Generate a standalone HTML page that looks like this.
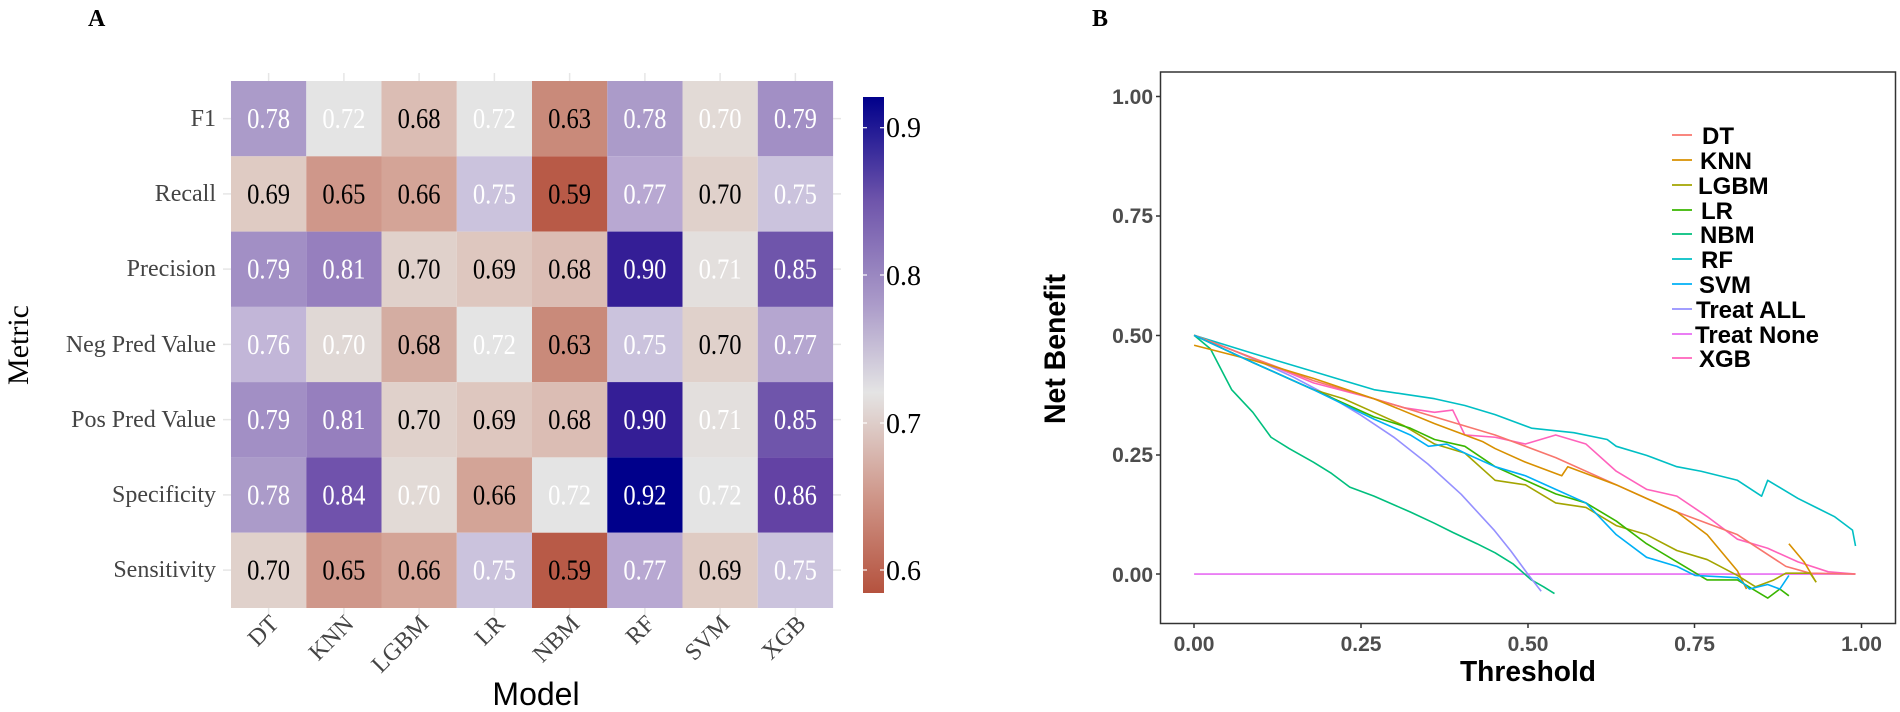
<!DOCTYPE html>
<html><head><meta charset="utf-8"><style>html,body{margin:0;padding:0;background:#fff;}svg{display:block;}</style></head>
<body>
<svg width="1900" height="712" viewBox="0 0 1900 712" xmlns="http://www.w3.org/2000/svg">
<defs>
<linearGradient id="cb" x1="0" y1="1" x2="0" y2="0">
<stop offset="0" stop-color="#b5523e"/>
<stop offset="0.196" stop-color="#cf978a"/>
<stop offset="0.404" stop-color="#e4e4e4"/>
<stop offset="0.582" stop-color="#ab9bc9"/>
<stop offset="0.79" stop-color="#6f55ab"/>
<stop offset="1" stop-color="#00008b"/>
</linearGradient>
</defs>
<rect width="1900" height="712" fill="#fff"/>
<text x="88" y="26" font-family="Liberation Serif" font-weight="bold" font-size="24">A</text>
<text x="1092" y="26" font-family="Liberation Serif" font-weight="bold" font-size="24">B</text>

<g stroke="#e6e6e6" stroke-width="1.5">
<line x1="268.6" y1="73" x2="268.6" y2="81"/><line x1="343.9" y1="73" x2="343.9" y2="81"/><line x1="419.1" y1="73" x2="419.1" y2="81"/><line x1="494.4" y1="73" x2="494.4" y2="81"/><line x1="569.6" y1="73" x2="569.6" y2="81"/><line x1="644.9" y1="73" x2="644.9" y2="81"/><line x1="720.1" y1="73" x2="720.1" y2="81"/><line x1="795.4" y1="73" x2="795.4" y2="81"/>
<line x1="268.6" y1="608" x2="268.6" y2="616"/><line x1="343.9" y1="608" x2="343.9" y2="616"/><line x1="419.1" y1="608" x2="419.1" y2="616"/><line x1="494.4" y1="608" x2="494.4" y2="616"/><line x1="569.6" y1="608" x2="569.6" y2="616"/><line x1="644.9" y1="608" x2="644.9" y2="616"/><line x1="720.1" y1="608" x2="720.1" y2="616"/><line x1="795.4" y1="608" x2="795.4" y2="616"/>
<line x1="223" y1="118.6" x2="231" y2="118.6"/><line x1="223" y1="193.9" x2="231" y2="193.9"/><line x1="223" y1="269.1" x2="231" y2="269.1"/><line x1="223" y1="344.4" x2="231" y2="344.4"/><line x1="223" y1="419.6" x2="231" y2="419.6"/><line x1="223" y1="494.9" x2="231" y2="494.9"/><line x1="223" y1="570.1" x2="231" y2="570.1"/>
<line x1="833" y1="118.6" x2="841" y2="118.6"/><line x1="833" y1="193.9" x2="841" y2="193.9"/><line x1="833" y1="269.1" x2="841" y2="269.1"/><line x1="833" y1="344.4" x2="841" y2="344.4"/><line x1="833" y1="419.6" x2="841" y2="419.6"/><line x1="833" y1="494.9" x2="841" y2="494.9"/><line x1="833" y1="570.1" x2="841" y2="570.1"/>
</g>

<g id="cells">
<rect x="231" y="81" width="75.3" height="75.3" fill="#ab9bc9"/><rect x="306.3" y="81" width="75.3" height="75.3" fill="#e4e4e4"/><rect x="381.5" y="81" width="75.3" height="75.3" fill="#dbbdb4"/><rect x="456.8" y="81" width="75.3" height="75.3" fill="#e4e4e4"/><rect x="532" y="81" width="75.3" height="75.3" fill="#c98a7a"/><rect x="607.3" y="81" width="75.3" height="75.3" fill="#ab9bc9"/><rect x="682.5" y="81" width="75.3" height="75.3" fill="#e2dad6"/><rect x="757.8" y="81" width="75.3" height="75.3" fill="#a28fc5"/>
<rect x="231" y="156.3" width="75.3" height="75.3" fill="#dfcbc3"/><rect x="306.3" y="156.3" width="75.3" height="75.3" fill="#cf978a"/><rect x="381.5" y="156.3" width="75.3" height="75.3" fill="#d4a497"/><rect x="456.8" y="156.3" width="75.3" height="75.3" fill="#cbc3dd"/><rect x="532" y="156.3" width="75.3" height="75.3" fill="#b85a47"/><rect x="607.3" y="156.3" width="75.3" height="75.3" fill="#b8a8d2"/><rect x="682.5" y="156.3" width="75.3" height="75.3" fill="#e0d1cb"/><rect x="757.8" y="156.3" width="75.3" height="75.3" fill="#cbc3dd"/>
<rect x="231" y="231.6" width="75.3" height="75.3" fill="#a28fc5"/><rect x="306.3" y="231.6" width="75.3" height="75.3" fill="#967fbe"/><rect x="381.5" y="231.6" width="75.3" height="75.3" fill="#e0d1cb"/><rect x="456.8" y="231.6" width="75.3" height="75.3" fill="#dec7bf"/><rect x="532" y="231.6" width="75.3" height="75.3" fill="#dbbdb4"/><rect x="607.3" y="231.6" width="75.3" height="75.3" fill="#341e96"/><rect x="682.5" y="231.6" width="75.3" height="75.3" fill="#e3dfdd"/><rect x="757.8" y="231.6" width="75.3" height="75.3" fill="#6f55ab"/>
<rect x="231" y="306.9" width="75.3" height="75.3" fill="#c2b6d8"/><rect x="306.3" y="306.9" width="75.3" height="75.3" fill="#e0d8d5"/><rect x="381.5" y="306.9" width="75.3" height="75.3" fill="#d4ada2"/><rect x="456.8" y="306.9" width="75.3" height="75.3" fill="#e4e4e4"/><rect x="532" y="306.9" width="75.3" height="75.3" fill="#c98a7a"/><rect x="607.3" y="306.9" width="75.3" height="75.3" fill="#cbc3dd"/><rect x="682.5" y="306.9" width="75.3" height="75.3" fill="#e0d1cb"/><rect x="757.8" y="306.9" width="75.3" height="75.3" fill="#b5a6d0"/>
<rect x="231" y="382.1" width="75.3" height="75.3" fill="#a28fc5"/><rect x="306.3" y="382.1" width="75.3" height="75.3" fill="#967fbe"/><rect x="381.5" y="382.1" width="75.3" height="75.3" fill="#e0d1cb"/><rect x="456.8" y="382.1" width="75.3" height="75.3" fill="#dec7bf"/><rect x="532" y="382.1" width="75.3" height="75.3" fill="#dbbdb4"/><rect x="607.3" y="382.1" width="75.3" height="75.3" fill="#341e96"/><rect x="682.5" y="382.1" width="75.3" height="75.3" fill="#e3dfdd"/><rect x="757.8" y="382.1" width="75.3" height="75.3" fill="#6f55ab"/>
<rect x="231" y="457.4" width="75.3" height="75.3" fill="#ab9bc9"/><rect x="306.3" y="457.4" width="75.3" height="75.3" fill="#7052ac"/><rect x="381.5" y="457.4" width="75.3" height="75.3" fill="#e2dad6"/><rect x="456.8" y="457.4" width="75.3" height="75.3" fill="#d3a497"/><rect x="532" y="457.4" width="75.3" height="75.3" fill="#e4e4e4"/><rect x="607.3" y="457.4" width="75.3" height="75.3" fill="#00008b"/><rect x="682.5" y="457.4" width="75.3" height="75.3" fill="#e4e4e4"/><rect x="757.8" y="457.4" width="75.3" height="75.3" fill="#6342a4"/>
<rect x="231" y="532.7" width="75.3" height="75.3" fill="#e0d1cb"/><rect x="306.3" y="532.7" width="75.3" height="75.3" fill="#cf978a"/><rect x="381.5" y="532.7" width="75.3" height="75.3" fill="#d4a497"/><rect x="456.8" y="532.7" width="75.3" height="75.3" fill="#cbc3dd"/><rect x="532" y="532.7" width="75.3" height="75.3" fill="#b85a47"/><rect x="607.3" y="532.7" width="75.3" height="75.3" fill="#b8a8d2"/><rect x="682.5" y="532.7" width="75.3" height="75.3" fill="#dfcbc3"/><rect x="757.8" y="532.7" width="75.3" height="75.3" fill="#cbc3dd"/>
</g>

<g font-family="Liberation Serif, serif" font-size="28" text-anchor="middle">
<g fill="#fff"><text x="268.6" y="128" textLength="43" lengthAdjust="spacingAndGlyphs">0.78</text><text x="343.9" y="128" textLength="43" lengthAdjust="spacingAndGlyphs">0.72</text></g><text x="419.1" y="128" textLength="43" lengthAdjust="spacingAndGlyphs">0.68</text><text x="494.4" y="128" fill="#fff" textLength="43" lengthAdjust="spacingAndGlyphs">0.72</text><text x="569.6" y="128" textLength="43" lengthAdjust="spacingAndGlyphs">0.63</text><g fill="#fff"><text x="644.9" y="128" textLength="43" lengthAdjust="spacingAndGlyphs">0.78</text><text x="720.1" y="128" textLength="43" lengthAdjust="spacingAndGlyphs">0.70</text><text x="795.4" y="128" textLength="43" lengthAdjust="spacingAndGlyphs">0.79</text></g>

<text x="268.6" y="203.3" textLength="43" lengthAdjust="spacingAndGlyphs">0.69</text><text x="343.9" y="203.3" textLength="43" lengthAdjust="spacingAndGlyphs">0.65</text><text x="419.1" y="203.3" textLength="43" lengthAdjust="spacingAndGlyphs">0.66</text><text x="494.4" y="203.3" fill="#fff" textLength="43" lengthAdjust="spacingAndGlyphs">0.75</text><text x="569.6" y="203.3" textLength="43" lengthAdjust="spacingAndGlyphs">0.59</text><text x="644.9" y="203.3" fill="#fff" textLength="43" lengthAdjust="spacingAndGlyphs">0.77</text><text x="720.1" y="203.3" textLength="43" lengthAdjust="spacingAndGlyphs">0.70</text><text x="795.4" y="203.3" fill="#fff" textLength="43" lengthAdjust="spacingAndGlyphs">0.75</text>

<text x="268.6" y="278.6" fill="#fff" textLength="43" lengthAdjust="spacingAndGlyphs">0.79</text><text x="343.9" y="278.6" fill="#fff" textLength="43" lengthAdjust="spacingAndGlyphs">0.81</text><text x="419.1" y="278.6" textLength="43" lengthAdjust="spacingAndGlyphs">0.70</text><text x="494.4" y="278.6" textLength="43" lengthAdjust="spacingAndGlyphs">0.69</text><text x="569.6" y="278.6" textLength="43" lengthAdjust="spacingAndGlyphs">0.68</text><text x="644.9" y="278.6" fill="#fff" textLength="43" lengthAdjust="spacingAndGlyphs">0.90</text><text x="720.1" y="278.6" fill="#fff" textLength="43" lengthAdjust="spacingAndGlyphs">0.71</text><text x="795.4" y="278.6" fill="#fff" textLength="43" lengthAdjust="spacingAndGlyphs">0.85</text>

<text x="268.6" y="353.9" fill="#fff" textLength="43" lengthAdjust="spacingAndGlyphs">0.76</text><text x="343.9" y="353.9" fill="#fff" textLength="43" lengthAdjust="spacingAndGlyphs">0.70</text><text x="419.1" y="353.9" textLength="43" lengthAdjust="spacingAndGlyphs">0.68</text><text x="494.4" y="353.9" fill="#fff" textLength="43" lengthAdjust="spacingAndGlyphs">0.72</text><text x="569.6" y="353.9" textLength="43" lengthAdjust="spacingAndGlyphs">0.63</text><text x="644.9" y="353.9" fill="#fff" textLength="43" lengthAdjust="spacingAndGlyphs">0.75</text><text x="720.1" y="353.9" textLength="43" lengthAdjust="spacingAndGlyphs">0.70</text><text x="795.4" y="353.9" fill="#fff" textLength="43" lengthAdjust="spacingAndGlyphs">0.77</text>

<text x="268.6" y="429.1" fill="#fff" textLength="43" lengthAdjust="spacingAndGlyphs">0.79</text><text x="343.9" y="429.1" fill="#fff" textLength="43" lengthAdjust="spacingAndGlyphs">0.81</text><text x="419.1" y="429.1" textLength="43" lengthAdjust="spacingAndGlyphs">0.70</text><text x="494.4" y="429.1" textLength="43" lengthAdjust="spacingAndGlyphs">0.69</text><text x="569.6" y="429.1" textLength="43" lengthAdjust="spacingAndGlyphs">0.68</text><text x="644.9" y="429.1" fill="#fff" textLength="43" lengthAdjust="spacingAndGlyphs">0.90</text><text x="720.1" y="429.1" fill="#fff" textLength="43" lengthAdjust="spacingAndGlyphs">0.71</text><text x="795.4" y="429.1" fill="#fff" textLength="43" lengthAdjust="spacingAndGlyphs">0.85</text>

<text x="268.6" y="504.4" fill="#fff" textLength="43" lengthAdjust="spacingAndGlyphs">0.78</text><text x="343.9" y="504.4" fill="#fff" textLength="43" lengthAdjust="spacingAndGlyphs">0.84</text><text x="419.1" y="504.4" fill="#fff" textLength="43" lengthAdjust="spacingAndGlyphs">0.70</text><text x="494.4" y="504.4" textLength="43" lengthAdjust="spacingAndGlyphs">0.66</text><text x="569.6" y="504.4" fill="#fff" textLength="43" lengthAdjust="spacingAndGlyphs">0.72</text><text x="644.9" y="504.4" fill="#fff" textLength="43" lengthAdjust="spacingAndGlyphs">0.92</text><text x="720.1" y="504.4" fill="#fff" textLength="43" lengthAdjust="spacingAndGlyphs">0.72</text><text x="795.4" y="504.4" fill="#fff" textLength="43" lengthAdjust="spacingAndGlyphs">0.86</text>

<text x="268.6" y="579.7" textLength="43" lengthAdjust="spacingAndGlyphs">0.70</text><text x="343.9" y="579.7" textLength="43" lengthAdjust="spacingAndGlyphs">0.65</text><text x="419.1" y="579.7" textLength="43" lengthAdjust="spacingAndGlyphs">0.66</text><text x="494.4" y="579.7" fill="#fff" textLength="43" lengthAdjust="spacingAndGlyphs">0.75</text><text x="569.6" y="579.7" textLength="43" lengthAdjust="spacingAndGlyphs">0.59</text><text x="644.9" y="579.7" fill="#fff" textLength="43" lengthAdjust="spacingAndGlyphs">0.77</text><text x="720.1" y="579.7" textLength="43" lengthAdjust="spacingAndGlyphs">0.69</text><text x="795.4" y="579.7" fill="#fff" textLength="43" lengthAdjust="spacingAndGlyphs">0.75</text>
</g>

<g font-family="Liberation Serif, serif" font-size="24" fill="#444" text-anchor="end">
<text x="216" y="126">F1</text>
<text x="216" y="201">Recall</text>
<text x="216" y="276">Precision</text>
<text x="216" y="352">Neg Pred Value</text>
<text x="216" y="427">Pos Pred Value</text>
<text x="216" y="502">Specificity</text>
<text x="216" y="577">Sensitivity</text>
</g>
<text transform="translate(28,345) rotate(-90)" font-family="Liberation Serif, serif" font-size="30" text-anchor="middle" fill="#000">Metric</text>
<g font-family="Liberation Serif, serif" font-size="24" fill="#444" text-anchor="end">
<text transform="translate(280,625) rotate(-45)">DT</text>
<text transform="translate(355,625) rotate(-45)">KNN</text>
<text transform="translate(430,625) rotate(-45)">LGBM</text>
<text transform="translate(506,625) rotate(-45)">LR</text>
<text transform="translate(581,625) rotate(-45)">NBM</text>
<text transform="translate(656,625) rotate(-45)">RF</text>
<text transform="translate(731,625) rotate(-45)">SVM</text>
<text transform="translate(807,625) rotate(-45)">XGB</text>
</g>
<text x="536" y="705" font-family="Liberation Sans, sans-serif" font-size="32" text-anchor="middle">Model</text>

<rect x="863" y="97" width="21" height="496" fill="url(#cb)"/>
<g stroke="#fff" stroke-width="1.2">
<line x1="863" y1="127.7" x2="867" y2="127.7"/><line x1="880" y1="127.7" x2="884" y2="127.7"/>
<line x1="863" y1="275" x2="867" y2="275"/><line x1="880" y1="275" x2="884" y2="275"/>
<line x1="863" y1="423" x2="867" y2="423"/><line x1="880" y1="423" x2="884" y2="423"/>
<line x1="863" y1="570" x2="867" y2="570"/><line x1="880" y1="570" x2="884" y2="570"/>
</g>
<g font-family="Liberation Serif, serif" font-size="28">
<text x="886" y="137">0.9</text><text x="886" y="285">0.8</text><text x="886" y="433">0.7</text><text x="886" y="580">0.6</text>
</g>

<rect x="1160.5" y="72" width="735" height="551.5" fill="none" stroke="#333" stroke-width="1.5"/>
<g stroke="#333" stroke-width="1.5">
<line x1="1156" y1="96.5" x2="1160" y2="96.5"/><line x1="1156" y1="216" x2="1160" y2="216"/><line x1="1156" y1="335.5" x2="1160" y2="335.5"/><line x1="1156" y1="455" x2="1160" y2="455"/><line x1="1156" y1="574" x2="1160" y2="574"/>
<line x1="1194" y1="624" x2="1194" y2="628"/><line x1="1361" y1="624" x2="1361" y2="628"/><line x1="1528" y1="624" x2="1528" y2="628"/><line x1="1694.5" y1="624" x2="1694.5" y2="628"/><line x1="1861.5" y1="624" x2="1861.5" y2="628"/>
</g>
<g font-family="Liberation Sans, sans-serif" font-weight="bold" font-size="21" fill="#4d4d4d" text-anchor="end">
<text x="1153" y="104">1.00</text><text x="1153" y="223">0.75</text><text x="1153" y="343">0.50</text><text x="1153" y="462">0.25</text><text x="1153" y="582">0.00</text>
</g>
<g font-family="Liberation Sans, sans-serif" font-weight="bold" font-size="21" fill="#4d4d4d" text-anchor="middle">
<text x="1194" y="651">0.00</text><text x="1361" y="651">0.25</text><text x="1528" y="651">0.50</text><text x="1694.5" y="651">0.75</text><text x="1861.5" y="651">1.00</text>
</g>
<text x="1528" y="681" font-family="Liberation Sans, sans-serif" font-weight="bold" font-size="29" text-anchor="middle" textLength="136" lengthAdjust="spacingAndGlyphs">Threshold</text>
<text transform="translate(1065,349) rotate(-90)" font-family="Liberation Sans, sans-serif" font-weight="bold" font-size="30" text-anchor="middle" textLength="150" lengthAdjust="spacingAndGlyphs">Net Benefit</text>

<g transform="translate(950,0) scale(0.6057,0.4531)" fill="none" stroke-width="1.6" stroke-linejoin="round">
<polyline vector-effect="non-scaling-stroke" stroke="#E76BF3" points="403,1267 1495,1267"/>
<polyline vector-effect="non-scaling-stroke" stroke="#00BF7D" points="403,740 430,770 465,860 500,910 530,965 560,990 600,1020 630,1045 660,1075 700,1095 760,1130 800,1155 830,1175 870,1200 900,1220 930,1245 960,1280 980,1295 998,1310"/>
<polyline vector-effect="non-scaling-stroke" stroke="#9590FF" points="403,740 458,768 513,799 568,833 623,872 678,916 734,966 789,1024 844,1091 899,1171 926,1216 954,1267 976,1305"/>
<polyline vector-effect="non-scaling-stroke" stroke="#00BFC4" points="403,740 500,780 600,820 650,840 700,860 750,870 800,880 850,895 900,915 960,945 1030,955 1085,970 1100,985 1150,1005 1200,1030 1240,1040 1270,1050 1300,1060 1340,1095 1350,1060 1400,1100 1430,1120 1460,1140 1490,1170 1495,1205"/>
<polyline vector-effect="non-scaling-stroke" stroke="#FF62BC" points="403,740 500,790 600,845 700,880 750,900 800,910 830,905 850,960 900,965 950,980 1000,960 1050,980 1100,1040 1150,1080 1200,1095 1250,1140 1300,1190 1350,1210 1400,1240 1450,1262 1495,1267"/>
<polyline vector-effect="non-scaling-stroke" stroke="#F8766D" points="403,740 500,790 600,840 700,880 800,920 900,960 1000,1010 1100,1070 1200,1130 1300,1180 1380,1250 1420,1265 1495,1267"/>
<polyline vector-effect="non-scaling-stroke" stroke="#D89000" points="403,762 500,795 600,835 700,880 800,935 880,975 900,990 950,1020 1010,1050 1020,1030 1100,1070 1200,1130 1250,1180 1300,1260 1315,1300"/>
<polyline vector-effect="non-scaling-stroke" stroke="#D89000" points="1385,1200 1410,1240 1430,1285"/>
<polyline vector-effect="non-scaling-stroke" stroke="#A3A500" points="403,740 500,800 600,860 650,880 700,910 750,940 800,980 850,1000 900,1060 950,1070 1000,1110 1050,1120 1100,1160 1150,1180 1200,1215 1250,1235 1300,1270 1330,1295 1360,1280 1380,1265 1420,1265 1430,1285"/>
<polyline vector-effect="non-scaling-stroke" stroke="#39B600" points="403,740 500,800 600,860 700,920 760,945 800,970 850,985 900,1030 950,1060 1000,1090 1050,1110 1100,1150 1150,1200 1200,1240 1250,1280 1300,1280 1350,1320 1370,1300 1385,1315"/>
<polyline vector-effect="non-scaling-stroke" stroke="#00B0F6" points="403,740 500,800 600,860 700,925 760,960 790,985 820,980 850,1000 900,1030 950,1050 1000,1080 1050,1110 1100,1180 1150,1230 1200,1250 1230,1270 1300,1275 1320,1300 1350,1290 1370,1300 1385,1270"/>
</g>

<g stroke-width="1.8">
<line x1="1672" y1="135" x2="1692" y2="135" stroke="#F8766D"/>
<line x1="1672" y1="160" x2="1692" y2="160" stroke="#D89000"/>
<line x1="1672" y1="185" x2="1692" y2="185" stroke="#A3A500"/>
<line x1="1672" y1="210" x2="1692" y2="210" stroke="#39B600"/>
<line x1="1672" y1="234" x2="1692" y2="234" stroke="#00BF7D"/>
<line x1="1672" y1="259" x2="1692" y2="259" stroke="#00BFC4"/>
<line x1="1672" y1="284" x2="1692" y2="284" stroke="#00B0F6"/>
<line x1="1672" y1="309" x2="1692" y2="309" stroke="#9590FF"/>
<line x1="1672" y1="334" x2="1692" y2="334" stroke="#E76BF3"/>
<line x1="1672" y1="358" x2="1692" y2="358" stroke="#FF62BC"/>
</g>
<g font-family="Liberation Sans, sans-serif" font-weight="bold" font-size="24" fill="#000">
<text x="1702" y="144">DT</text>
<text x="1700" y="169">KNN</text>
<text x="1698" y="194">LGBM</text>
<text x="1701" y="219">LR</text>
<text x="1700" y="243">NBM</text>
<text x="1701" y="268">RF</text>
<text x="1699" y="293">SVM</text>
<text x="1696" y="318">Treat ALL</text>
<text x="1695" y="343">Treat None</text>
<text x="1699" y="367">XGB</text>
</g>
</svg>
</body></html>
